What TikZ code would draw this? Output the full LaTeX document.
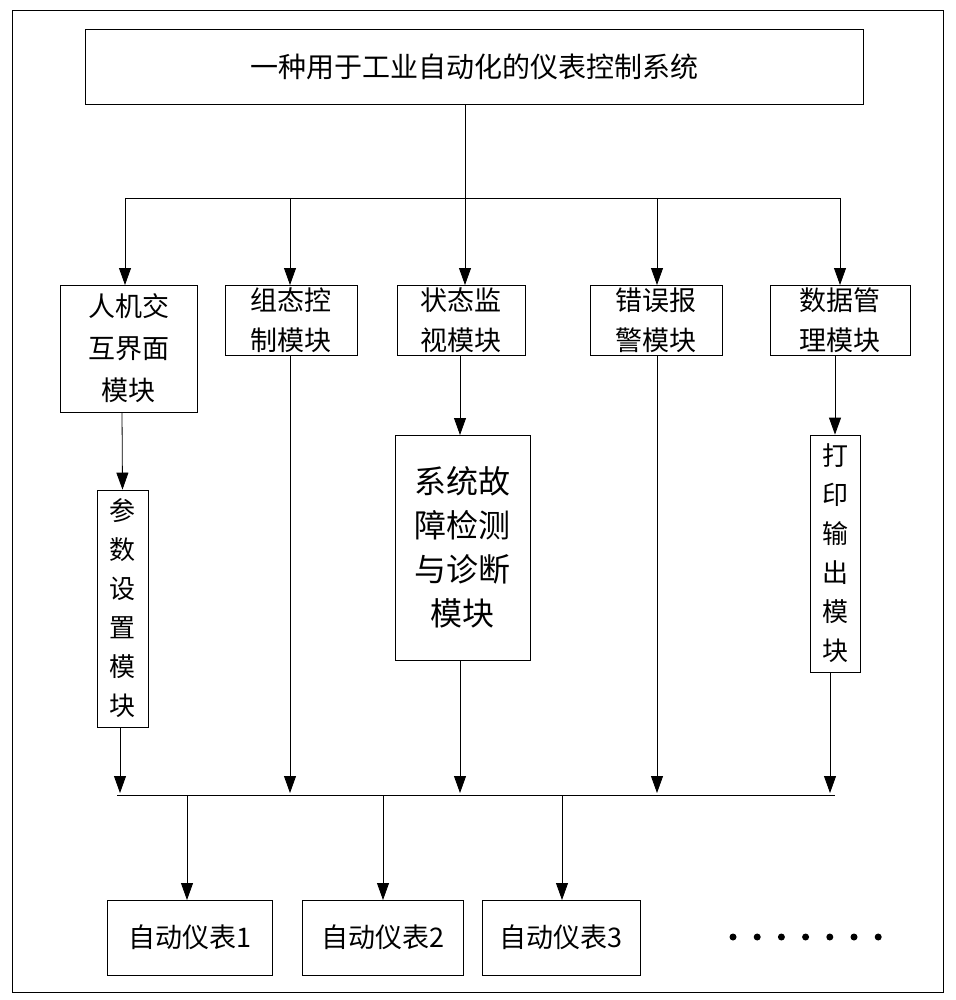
\documentclass[tikz,border=0pt]{standalone}
\usepackage{fontspec}
\setmainfont{Noto Sans CJK SC}
\usetikzlibrary{arrows.meta}
\begin{document}
\begin{tikzpicture}[x=1pt,y=-1pt,
  bx/.style={draw,line width=0.8pt,inner sep=0pt,align=center,font=\fontsize{27}{42}\selectfont},
  ar/.style={-{Triangle[length=17pt,width=12pt]},line width=0.8pt},
  ln/.style={line width=0.8pt}]
\useasboundingbox (0,0) rectangle (955,1000);
\draw[ln] (12,10) rectangle (943,992);
\node[bx,minimum width=778,minimum height=75,font=\fontsize{28}{30}\selectfont] (t) at (474,67) {一种用于工业自动化的仪表控制系统};
\node[bx,minimum width=137,minimum height=127] (m1) at (128.5,348.5) {人机交\\互界面\\模块};
\node[bx,minimum width=132,minimum height=70,font=\fontsize{27}{40}\selectfont] (m2) at (291,320) {组态控\\制模块};
\node[bx,minimum width=128,minimum height=70,font=\fontsize{27}{40}\selectfont] (m3) at (461,320) {状态监\\视模块};
\node[bx,minimum width=132,minimum height=70,font=\fontsize{27}{40}\selectfont] (m4) at (656,320) {错误报\\警模块};
\node[bx,minimum width=140,minimum height=70,font=\fontsize{27}{40}\selectfont] (m5) at (840,320) {数据管\\理模块};
\node[bx,minimum width=51,minimum height=237,font=\fontsize{26}{39}\selectfont] (p) at (122.5,608.5) {参\\数\\设\\置\\模\\块};
\node[bx,minimum width=135,minimum height=225,font=\fontsize{32}{44}\selectfont] (d) at (462.5,547.5) {系统故\\障检测\\与诊断\\模块};
\node[bx,minimum width=50,minimum height=237,font=\fontsize{26}{39}\selectfont] (q) at (835,553.5) {打\\印\\输\\出\\模\\块};
\node[bx,minimum width=165,minimum height=75] (a1) at (189.5,937.5) {自动仪表1};
\node[bx,minimum width=161,minimum height=75] (a2) at (382.5,937.5) {自动仪表2};
\node[bx,minimum width=158,minimum height=75] (a3) at (561,937.5) {自动仪表3};
\foreach \i in {0,...,6} \fill (733+\i*24.2,937) circle (3.5);
\coordinate (b0) at (465,198);
\draw[ln] (t.south -| b0) -- (b0);
\draw[ln] (125,198) -- (840,198);
\foreach \n/\x in {m1/125,m2/290,m3/465,m4/657,m5/840}
  \draw[ar] (\x,198) -- (\x,285);
\draw[ar] (122,412) -- (p.north);
\draw[ar] (460,355) -- (460,435);
\draw[ar] (835,355) -- (q.north);
\draw[ln] (117,795) -- (835,795);
\draw[ar] (120,727) -- (120,793);
\draw[ar] (290,355) -- (290,793);
\draw[ar] (460,660) -- (460,793);
\draw[ar] (657,355) -- (657,793);
\draw[ar] (830,672) -- (830,793);
\draw[ar] (187,795) -- (187,900);
\draw[ar] (383,795) -- (383,900);
\draw[ar] (562,795) -- (562,900);
\end{tikzpicture}
\end{document}
